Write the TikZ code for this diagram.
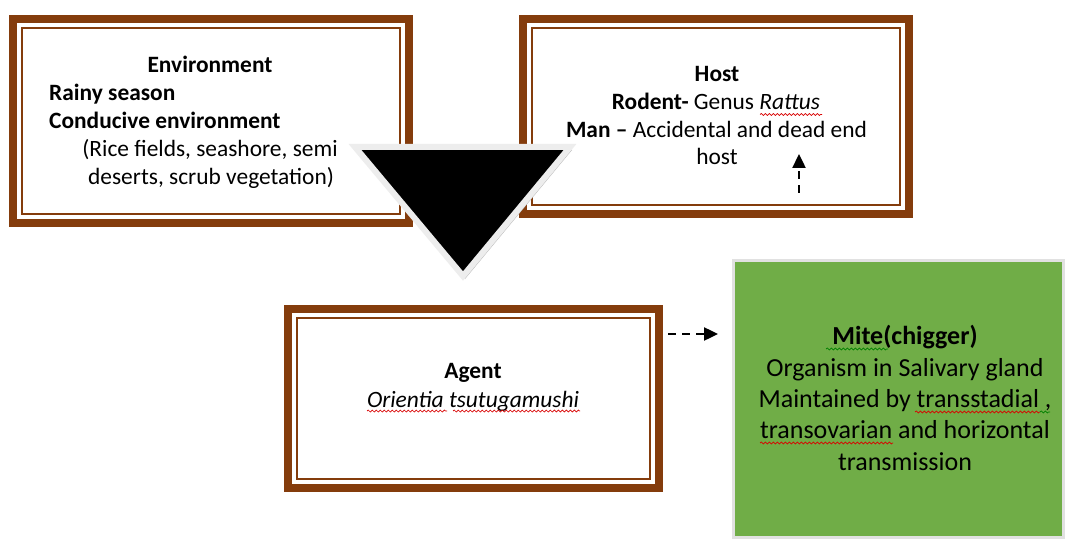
\documentclass[tikz,border=0pt]{standalone}
\usepackage{fontspec}
\setmainfont{Carlito}
\usetikzlibrary{arrows.meta,decorations.pathmorphing}
\definecolor{boxbrown}{RGB}{132,60,12}
\definecolor{mitegreen}{RGB}{112,173,71}
\definecolor{framegray}{RGB}{225,225,225}
\begin{document}
\begin{tikzpicture}[x=1pt,y=1pt,
  framebox/.style={draw=boxbrown,line width=8pt,rectangle,inner sep=0pt,outer sep=0pt,fill=white},
  innerline/.style={draw=boxbrown,line width=2pt},
  txt/.style={inner sep=0pt,font=\fontsize{23.4}{28}\selectfont,anchor=base},
  txtl/.style={txt,anchor=base west},
  gtxt/.style={inner sep=0pt,font=\fontsize{26}{31}\selectfont,anchor=base},
  dasharrow/.style={line width=2.4pt,dash pattern=on 8pt off 6pt,-{Triangle[length=14pt,width=13pt]}},
  squig/.style={draw=red!85!black,line width=0.7pt,decorate,decoration={snake,amplitude=1pt,segment length=4pt}},
  gsquig/.style={draw=green!50!black,line width=0.7pt,decorate,decoration={snake,amplitude=1pt,segment length=4pt}}
]
\useasboundingbox (0,0) rectangle (1065,-540);
\fill[white] (0,0) rectangle (1065,-540);

% Environment box
\node[framebox,minimum width=396pt,minimum height=204pt] (env) at (211,-121) {};
\draw[innerline] ([xshift=9pt,yshift=-9pt]env.north west) rectangle ([xshift=-9pt,yshift=9pt]env.south east);
\node[txt] (envT) at (210,-73) {\bfseries Environment};
\node[txtl] (envA) at (49,-101) {\bfseries Rainy season};
\node[txtl] (envB) at (49,-129) {\bfseries Conducive environment};
\node[txt] (envC) at (210,-157) {(Rice fields, seashore, semi};
\node[txt] (envD) at (211,-185) {deserts, scrub vegetation)};

% Host box
\node[framebox,minimum width=386pt,minimum height=195pt] (host) at (716,-116.5) {};
\draw[innerline] ([xshift=9pt,yshift=-9pt]host.north west) rectangle ([xshift=-9pt,yshift=9pt]host.south east);
\node[txt] (hostT) at (717,-82) {\bfseries Host};
\node[txt] (hostA) at (716,-110) {\bfseries Rodent-\mdseries\ Genus \itshape Rattus};
\node[txt] (hostB) at (716.5,-138) {\bfseries Man –\mdseries\ Accidental and dead end};
\node[txt] (hostC) at (717,-165) {host};
\draw[squig] (760,-114.5) -- (822,-114.5);

% Agent box
\node[framebox,minimum width=371pt,minimum height=179pt] (agent) at (473.5,-398.5) {};
\draw[innerline] ([xshift=9pt,yshift=-9pt]agent.north west) rectangle ([xshift=-9pt,yshift=9pt]agent.south east);
\node[txt] (agentT) at (473,-378) {\bfseries Agent};
\node[txt] (agentA) at (473,-407) {\itshape Orientia tsutugamushi};
\draw[squig] (367,-411) -- (447,-411);
\draw[squig] (453,-411) -- (580,-411);

% Mite box
\node[rectangle,draw=framegray,line width=3pt,fill=mitegreen,minimum width=330pt,minimum height=277pt,inner sep=0pt,outer sep=0pt] (mite) at (898,-398.5) {};
\node[gtxt] (miteT) at (905,-344) {\bfseries Mite(chigger)};
\node[gtxt] (miteA) at (905,-376) {Organism in Salivary gland};
\node[gtxt] (miteB) at (905,-407) {Maintained by transstadial ,};
\node[gtxt] (miteC) at (905,-438) {transovarian and horizontal};
\node[gtxt] (miteD) at (905,-470) {transmission};
\draw[gsquig] (826,-349) -- (888,-349);
\draw[squig] (915,-412) -- (1040,-412);
\draw[gsquig] (1040,-412) -- (1050,-412);
\draw[squig] (760,-443) -- (893,-443);

% Triangle
\fill[gray!55] (357,-150) -- (572,-150) -- (465,-279) -- cycle;
\draw[fill=black,draw=framegray!60!white,line width=6pt,line join=miter] (355,-147) -- (570,-147) -- (463,-276) -- cycle;

% Dashed arrows
\coordinate (h1) at (668,-334);
\coordinate (h2) at (718,-334);
\draw[dasharrow] (h1) -- (h2);
\coordinate (v1) at (799,-193);
\coordinate (v2) at (799,-154);
\draw[dasharrow] (v1) -- (v2);
\end{tikzpicture}
\end{document}
